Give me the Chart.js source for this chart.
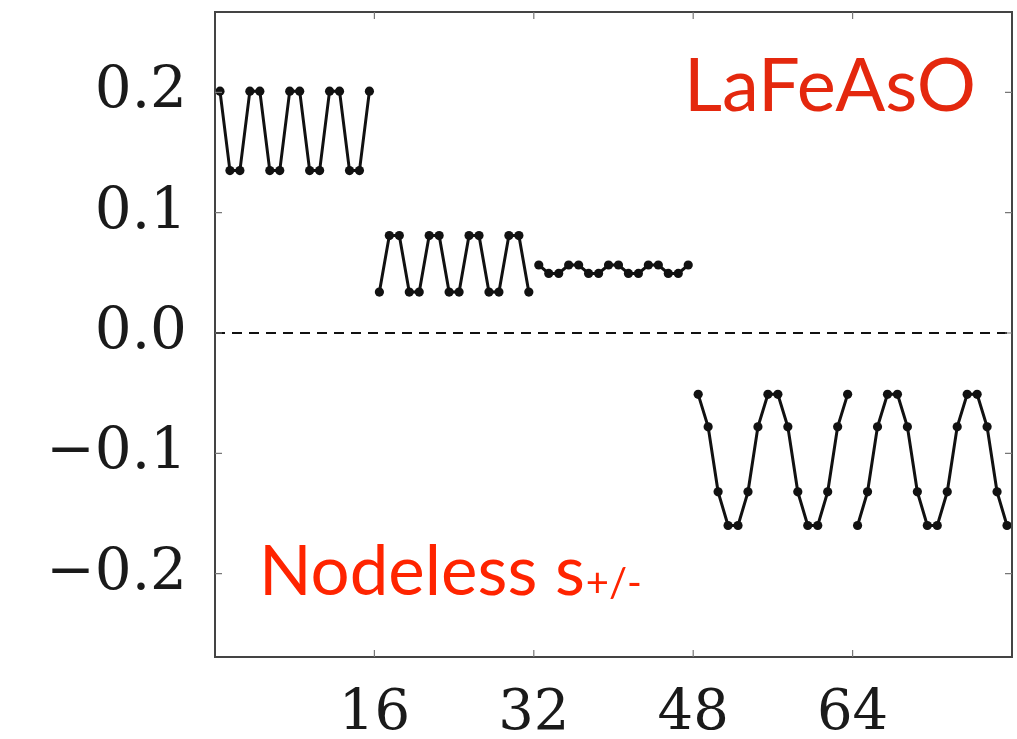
<!DOCTYPE html>
<html>
<head>
<meta charset="utf-8">
<script src="https://cdn.jsdelivr.net/npm/chart.js@4.4.1/dist/chart.umd.min.js"></script>
<style>
html,body{margin:0;padding:0;background:#fff;}
#wrap{width:1017px;height:739px;}
</style>
</head>
<body>
<div id="wrap"><canvas id="c" width="1017" height="739"></canvas></div>
<script>
// Segment start sites (each segment has 16 lattice sites)
const segStarts = [0, 16, 32, 48, 64];
const seg1 = [0.201,0.135,0.135,0.201,0.201,0.135,0.135,0.201,0.201,0.135,0.135,0.201,0.201,0.135,0.135,0.201];
const seg2 = [0.034,0.081,0.081,0.034,0.034,0.081,0.081,0.034,0.034,0.081,0.081,0.034,0.034,0.081,0.081,0.034];
const seg3 = [0.0565,0.0495,0.0495,0.0565,0.0565,0.0495,0.0495,0.0565,0.0565,0.0495,0.0495,0.0565,0.0565,0.0495,0.0495,0.0565];
const seg4 = [-0.051,-0.078,-0.132,-0.160,-0.160,-0.132,-0.078,-0.051,-0.051,-0.078,-0.132,-0.160,-0.160,-0.132,-0.078,-0.051];
const seg5 = [-0.160,-0.132,-0.078,-0.051,-0.051,-0.078,-0.132,-0.160,-0.160,-0.132,-0.078,-0.051,-0.051,-0.078,-0.132,-0.160];
const xTicks = [16, 32, 48, 64];
const yTicks = [-0.2, -0.1, 0.0, 0.1, 0.2];
const zeroLineX = [0, 80];
const zeroLineY = [0, 0];

const segs = [seg1, seg2, seg3, seg4, seg5];
function toPts(vals, start){ return vals.map((v,i)=>({x:start+i+0.5, y:v})); }

const datasets = segs.map((s,k)=>({
  data: toPts(s, segStarts[k]),
  borderColor:'#111', backgroundColor:'#111',
  borderWidth:3, pointRadius:4.6, pointHoverRadius:4.6,
  pointBorderWidth:0, tension:0
}));
datasets.unshift({
  data: zeroLineX.map((x,i)=>({x:x, y:zeroLineY[i]})),
  borderColor:'#111', borderWidth:2, borderDash:[10,7], pointRadius:0, tension:0
});

const serif = "'DejaVu Serif', serif";

const boxPlugin = {
  id:'box',
  afterDatasetsDraw(chart){
    const {ctx, chartArea:a, scales:{x,y}} = chart;
    ctx.save();
    ctx.strokeStyle='#444'; ctx.lineWidth=2;
    ctx.strokeRect(a.left, a.top, a.right-a.left, a.bottom-a.top);
    ctx.lineWidth=1.2; ctx.strokeStyle='#777';
    const tl=7;
    yTicks.forEach(v=>{
      const py=y.getPixelForValue(v);
      ctx.beginPath(); ctx.moveTo(a.left,py); ctx.lineTo(a.left+tl,py);
      ctx.moveTo(a.right,py); ctx.lineTo(a.right-tl,py); ctx.stroke();
    });
    xTicks.forEach(v=>{
      const px=x.getPixelForValue(v);
      ctx.beginPath(); ctx.moveTo(px,a.bottom); ctx.lineTo(px,a.bottom-tl);
      ctx.moveTo(px,a.top); ctx.lineTo(px,a.top+tl); ctx.stroke();
    });
    // annotations
    ctx.textBaseline='alphabetic'; ctx.textAlign='left';
    ctx.fillStyle='#e4280e';
    ctx.font="400 74px Lato, 'Open Sans', sans-serif";
    ctx.fillText('LaFeAsO', 684, 111);
    ctx.fillStyle='#ff2400';
    ctx.font="400 69px Lato, 'Open Sans', sans-serif";
    ctx.fillText('Nodeless s', 259, 595);
    const w = ctx.measureText('Nodeless s').width;
    ctx.font="400 40px Lato, 'Open Sans', sans-serif";
    ctx.fillText('+/-', 259+w+1, 597);
    ctx.restore();
  }
};

new Chart(document.getElementById('c'), {
  type:'line',
  data:{datasets},
  plugins:[boxPlugin],
  options:{
    responsive:false, animation:false,
    layout:{padding:{left:0, right:5, top:12, bottom:0}},
    plugins:{legend:{display:false}, tooltip:{enabled:false}},
    scales:{
      x:{type:'linear', min:0, max:80,
        grid:{display:false, drawTicks:false}, border:{display:false},
        afterBuildTicks(s){ s.ticks = xTicks.map(v=>({value:v})); },
        afterFit(s){ s.height = 82; s.paddingLeft = 0; s.paddingRight = 0; },
        ticks:{color:'#1a1a1a', padding:24, maxRotation:0, autoSkip:false,
          font:{family:serif, size:56}, callback:v=>String(v)}
      },
      y:{type:'linear', min:-0.2693, max:0.2668,
        grid:{display:false, drawTicks:false}, border:{display:false},
        afterBuildTicks(s){ s.ticks = yTicks.map(v=>({value:v})); },
        afterFit(s){ s.width = 215; s.paddingTop = 0; s.paddingBottom = 0; },
        ticks:{color:'#1a1a1a', padding:28, autoSkip:false,
          font:{family:serif, size:58},
          callback:v=>{ const t=Math.abs(v).toFixed(1); return v< -1e-9 ? '\u2212'+t : t; }}
      }
    }
  }
});
</script>
</body>
</html>
